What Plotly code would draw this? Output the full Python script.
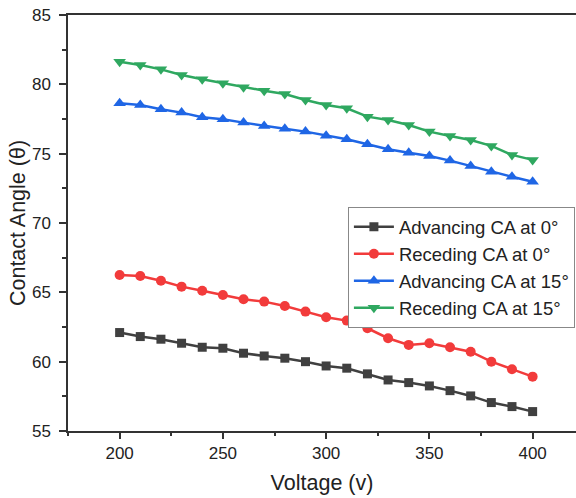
import plotly.graph_objects as go

voltage = [200, 210, 220, 230, 240, 250, 260, 270, 280, 290, 300,
           310, 320, 330, 340, 350, 360, 370, 380, 390, 400]
adv_0 = [62.1, 61.81, 61.62, 61.33, 61.04, 60.97, 60.61, 60.41, 60.25, 60.0, 59.69,
         59.53, 59.12, 58.68, 58.49, 58.25, 57.91, 57.53, 57.05, 56.76, 56.4]
rec_0 = [66.25, 66.18, 65.84, 65.41, 65.12, 64.81, 64.5, 64.33, 64.02, 63.61, 63.2,
         62.96, 62.41, 61.69, 61.21, 61.33, 61.04, 60.72, 60.0, 59.45, 58.92]
adv_15 = [78.63, 78.51, 78.2, 77.96, 77.62, 77.48, 77.24, 77.0, 76.8, 76.59, 76.3,
          76.04, 75.68, 75.32, 75.07, 74.83, 74.5, 74.11, 73.7, 73.34, 72.98]
rec_15 = [81.63, 81.4, 81.08, 80.67, 80.36, 80.07, 79.79, 79.54, 79.3, 78.87, 78.51,
          78.27, 77.67, 77.43, 77.07, 76.59, 76.28, 75.99, 75.56, 74.91, 74.55]

series_names = ["Advancing CA at 0°", "Receding CA at 0°",
                "Advancing CA at 15°", "Receding CA at 15°"]
series_values = [adv_0, rec_0, adv_15, rec_15]
colors = ["#404040", "#f23b3b", "#1f66e5", "#2fa860"]
symbols = ["square", "circle", "triangle-up", "triangle-down"]
sizes = [9, 10, 11, 11]

fig = go.Figure()
for name, vals, c, s, sz in zip(series_names, series_values, colors, symbols, sizes):
    fig.add_trace(go.Scatter(
        x=voltage, y=vals, name=name, mode="lines+markers",
        line=dict(color=c, width=2.5),
        marker=dict(symbol=s, size=sz, color=c),
    ))

axis_col = "#333333"
txt_col = "#222222"
fig.update_layout(
    width=576, height=498,
    margin=dict(l=68, r=0, t=15, b=67, autoexpand=False),
    paper_bgcolor="white", plot_bgcolor="white",
    font=dict(family="Liberation Sans, Arial, sans-serif", color=txt_col),
    showlegend=True,
    legend=dict(
        x=0.551, y=0.538, xanchor="left", yanchor="top",
        bgcolor="white", bordercolor="#888888", borderwidth=1,
        font=dict(size=18.5, color=txt_col),
        tracegroupgap=0, itemwidth=40,
    ),
    xaxis=dict(
        range=[175, 421], tickvals=[200, 250, 300, 350, 400],
        showgrid=False, zeroline=False, automargin=False,
        showline=True, linecolor=axis_col, linewidth=1.5, mirror=True,
        ticks="outside", ticklen=6, tickwidth=1.5, tickcolor=axis_col,
        minor=dict(dtick=25, tick0=0, ticks="outside", ticklen=3.5, tickwidth=1.5, tickcolor=axis_col),
        tickfont=dict(size=17, color=txt_col),
        title=dict(text="Voltage (v)", font=dict(size=21.5, color=txt_col), standoff=13),
    ),
    yaxis=dict(
        range=[55, 85], tickvals=[55, 60, 65, 70, 75, 80, 85],
        showgrid=False, zeroline=False, automargin=False,
        showline=True, linecolor=axis_col, linewidth=1.5,
        ticks="outside", ticklen=7, tickwidth=1.5, tickcolor=axis_col,
        ticklabelstandoff=5,
        minor=dict(dtick=2.5, tick0=0, ticks="outside", ticklen=4, tickwidth=1.5, tickcolor=axis_col),
        tickfont=dict(size=17, color=txt_col),
        title=dict(text="Contact Angle (θ)", font=dict(size=21.5, color=txt_col), standoff=0),
    ),
)

fig.write_html("out.html", config={"displayModeBar": False},
               post_script="document.body.style.margin='0';document.body.style.overflow='hidden';")
